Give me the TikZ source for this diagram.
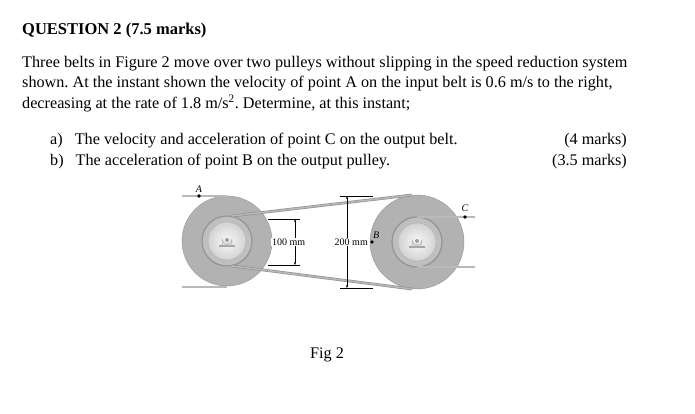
\documentclass[tikz,border=0pt]{standalone}
\usepackage{fontspec}
\setmainfont{Liberation Serif}
\usetikzlibrary{arrows.meta,calc}
\tikzset{
  txt/.style={anchor=base west,inner sep=0pt,font=\fontsize{16.2}{18}\selectfont},
  disk/.style={fill=gray!60,draw=gray!85},
  groove/.style={fill=gray!50,draw=gray!85,line width=1.2pt},
  hub/.style={inner color=gray!5,outer color=gray!35,draw=gray!60},
  belt/.style={draw=gray!85,line width=2.8pt,postaction={draw=gray!55,line width=1.4pt}},
  dim/.style={line width=0.5pt},
  dot/.style={circle,fill=black,inner sep=1.3pt},
  lab/.style={font=\fontsize{10}{11}\selectfont\itshape,inner sep=1pt}
}
\newcommand{\bearing}[1]{%
  \fill[gray!70] ($(#1)+(-8,4)$) rectangle ($(#1)+(8,6)$);
  \filldraw[fill=gray!25,draw=gray!75] ($(#1)+(-5,4)$) -- ($(#1)+(-5,-2)$) arc (180:0:5) -- ($(#1)+(5,4)$) -- cycle;
  \fill[gray!75] ($(#1)+(0,-1)$) circle (2);}
\begin{document}
\frenchspacing
\begin{tikzpicture}[x=1pt,y=-1pt]
\useasboundingbox (0,0) rectangle (695,414);
% question text
\node[txt,font=\fontsize{16.5}{18}\selectfont\bfseries] (title) at (22,35) {QUESTION 2 (7.5 marks)};
\node[txt] (l1) at (22,68) {Three belts in Figure 2 move over two pulleys without slipping in the speed reduction system};
\node[txt] (l2) at (22,88) {shown. At the instant shown the velocity of point A on the input belt is 0.6 m/s to the right,};
\node[txt] (l3) at (22,109) {decreasing at the rate of 1.8 m/s\textsuperscript{2}. Determine, at this instant;};
\node[txt] (qa) at (50,145) {a)\hspace{8pt} The velocity and acceleration of point C on the output belt.};
\node[txt] (qb) at (50,165) {b)\hspace{8pt} The acceleration of point B on the output pulley.};
\node[txt,anchor=base east] (ma) at (627,145) {(4 marks)};
\node[txt,anchor=base east] (mb) at (627,165) {(3.5 marks)};
% pulleys
\coordinate (L) at (227,241);
\coordinate (R) at (417,242);
\draw[disk] (L) circle (45);
\draw[disk] (R) circle (47);
\draw[groove] (L) circle (25);
\draw[groove] (R) circle (25);
\draw[hub] (L) circle (19);
\draw[hub] (R) circle (19);
\bearing{L}
\bearing{R}
% belts
\draw[belt] (182,196) -- (227,196);
\draw[belt] (182,287) -- (227,287);
\draw[belt] (232,216) -- (412,195);
\draw[belt] (232,266) -- (412,289);
\draw[belt] (417,217) -- (475,217);
\draw[belt] (417,267) -- (475,267);
% points
\node[dot] (A) at (199,196) {};
\node[lab,above] at (A.north) {A};
\node[dot] (C) at (465,217) {};
\node[lab,above=2pt] at (C.north) {C};
\node[dot] (B) at (372,242) {};
\node[lab,above right] at (B.north) {B};
% dimensions
\draw[dim] (268,219) -- (300,219);
\draw[dim] (268,265) -- (300,265);
\draw[dim,{Stealth[length=3pt]}-{Stealth[length=3pt]}] (295,219) -- (295,265);
\node[lab,font=\fontsize{10}{11}\selectfont,fill=white,anchor=west] at (271,242) {100 mm};
\draw[dim] (340,196) -- (373,196);
\draw[dim] (340,288) -- (373,288);
\draw[dim,{Stealth[length=3pt]}-{Stealth[length=3pt]}] (347,196) -- (347,288);
\node[lab,font=\fontsize{10}{11}\selectfont,fill=white,anchor=east] at (369,242) {200 mm};
\node[txt] (fig) at (310,358) {Fig 2};
\end{tikzpicture}
\end{document}
